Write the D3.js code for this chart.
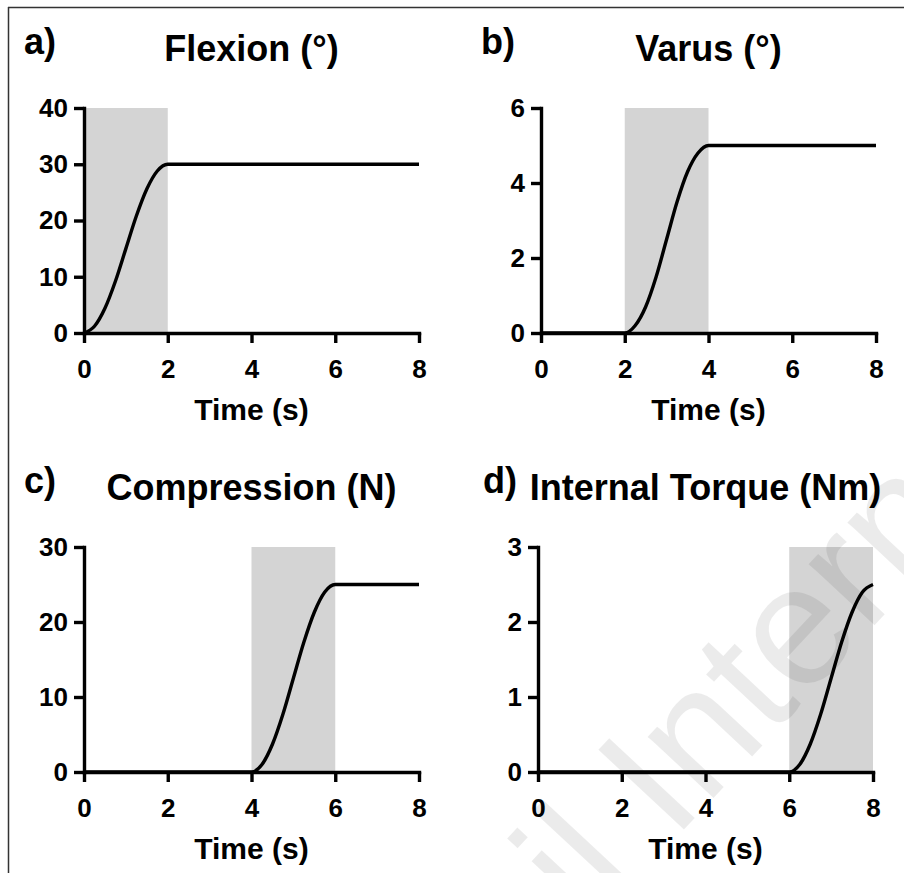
<!DOCTYPE html>
<html>
<head>
<meta charset="utf-8">
<script src="https://cdn.jsdelivr.net/npm/d3@7"></script>
<style>
  body { margin: 0; background: #fff; }
  svg { display: block; font-family: 'Liberation Sans', Arial, sans-serif; }
  .tick text { font-size: 26px; font-weight: bold; fill: #000; }
  .axis path, .axis line { stroke: #000; stroke-width: 3.4px; }
</style>
</head>
<body>
<svg id="fig"></svg>
<script>
let w = 904;
let h = 873;

// time ticks shared by all panels
const timeTicks = [0, 2, 4, 6, 8];

// a) flexion
const flexTime = [0, 0.25, 0.5, 0.75, 1, 1.25, 1.5, 1.75, 2, 8];
const flexVal = [0, 1.2, 4.4, 9.2, 15, 20.8, 25.6, 28.8, 30, 30];
const flexTicks = [0, 10, 20, 30, 40];

// b) varus
const varTime = [0, 2, 2.25, 2.5, 2.75, 3, 3.25, 3.5, 3.75, 4, 8];
const varVal = [0, 0, 0.2, 0.7, 1.5, 2.5, 3.5, 4.3, 4.8, 5, 5];
const varTicks = [0, 2, 4, 6];

// c) compression
const compTime = [0, 4, 4.25, 4.5, 4.75, 5, 5.25, 5.5, 5.75, 6, 8];
const compVal = [0, 0, 1, 3.7, 7.7, 12.5, 17.3, 21.3, 24, 25, 25];
const compTicks = [0, 10, 20, 30];

// d) internal torque
const torqTime = [0, 6, 6.25, 6.5, 6.75, 7, 7.25, 7.5, 7.75, 8];
const torqVal = [0, 0, 0.1, 0.37, 0.77, 1.25, 1.73, 2.13, 2.4, 2.5];
const torqTicks = [0, 1, 2, 3];

const panels = [
  {letter: 'a)', title: 'Flexion (°)', t: flexTime, v: flexVal, ticks: flexTicks, shade: [0, 2], left: 84, top: 108},
  {letter: 'b)', title: 'Varus (°)', t: varTime, v: varVal, ticks: varTicks, shade: [2, 4], left: 541, top: 108},
  {letter: 'c)', title: 'Compression (N)', t: compTime, v: compVal, ticks: compTicks, shade: [4, 6], left: 84, top: 547},
  {letter: 'd)', title: 'Internal Torque (Nm)', t: torqTime, v: torqVal, ticks: torqTicks, shade: [6, 8], left: 538, top: 547}
];

let pw = 335;
let ph = 225;

const svg = d3.select('#fig')
  .attr('width', w)
  .attr('height', h)

// frame lines of the original figure
svg.append('line').attr('x1', 8).attr('x2', w).attr('y1', 7.5).attr('y2', 7.5)
  .attr('stroke', '#333').attr('stroke-width', 1.5)
svg.append('line').attr('x1', 8.5).attr('x2', 8.5).attr('y1', 7).attr('y2', h)
  .attr('stroke', '#333').attr('stroke-width', 1.5)

panels.forEach(p => {
  const g = svg.append('g')
    .attr('transform', `translate(${p.left},${p.top})`)

  const x = d3.scaleLinear().domain([0, 8]).range([0, pw])
  const y = d3.scaleLinear().domain([0, d3.max(p.ticks)]).range([ph, 0])

  g.append('rect')
    .attr('x', x(p.shade[0]))
    .attr('width', x(p.shade[1]) - x(p.shade[0]))
    .attr('y', y(d3.max(p.ticks)))
    .attr('height', y(0) - y(d3.max(p.ticks)))
    .attr('fill', '#d4d4d4')

  g.append('g')
    .attr('class', 'axis')
    .attr('transform', `translate(0,${ph})`)
    .call(d3.axisBottom(x).tickValues(timeTicks).tickFormat(d3.format('d'))
      .tickSize(10).tickSizeOuter(0).tickPadding(17))

  g.append('g')
    .attr('class', 'axis')
    .call(d3.axisLeft(y).tickValues(p.ticks).tickFormat(d3.format('d'))
      .tickSize(10).tickSizeOuter(0).tickPadding(6))

  g.selectAll('.axis path').attr('stroke-linecap', 'square')

  const line = d3.line()
    .x((d, i) => x(p.t[i]))
    .y(d => y(d))
    .curve(d3.curveMonotoneX)

  g.append('path')
    .datum(p.v)
    .attr('d', line)
    .attr('fill', 'none')
    .attr('stroke', '#000')
    .attr('stroke-width', 3.4)

  g.append('text')
    .attr('x', pw / 2)
    .attr('y', ph + 87)
    .attr('text-anchor', 'middle')
    .style('font-size', '30px')
    .style('font-weight', 'bold')
    .text('Time (s)')

  g.append('text')
    .attr('x', pw / 2)
    .attr('y', -47)
    .attr('text-anchor', 'middle')
    .style('font-size', '36px')
    .style('font-weight', 'bold')
    .text(p.title)

  g.append('text')
    .attr('x', p.letter === 'd)' ? -55 : -60)
    .attr('y', -54)
    .style('font-size', '36px')
    .style('font-weight', 'bold')
    .text(p.letter)
})

// faint publisher watermark, cut by the figure edge as in the source
svg.append('text')
  .attr('transform', 'translate(525,1000) rotate(-47)')
  .style('font-size', '170px')
  .style('fill', '#000')
  .style('fill-opacity', 0.08)
  .text('ail International')
</script>
</body>
</html>
